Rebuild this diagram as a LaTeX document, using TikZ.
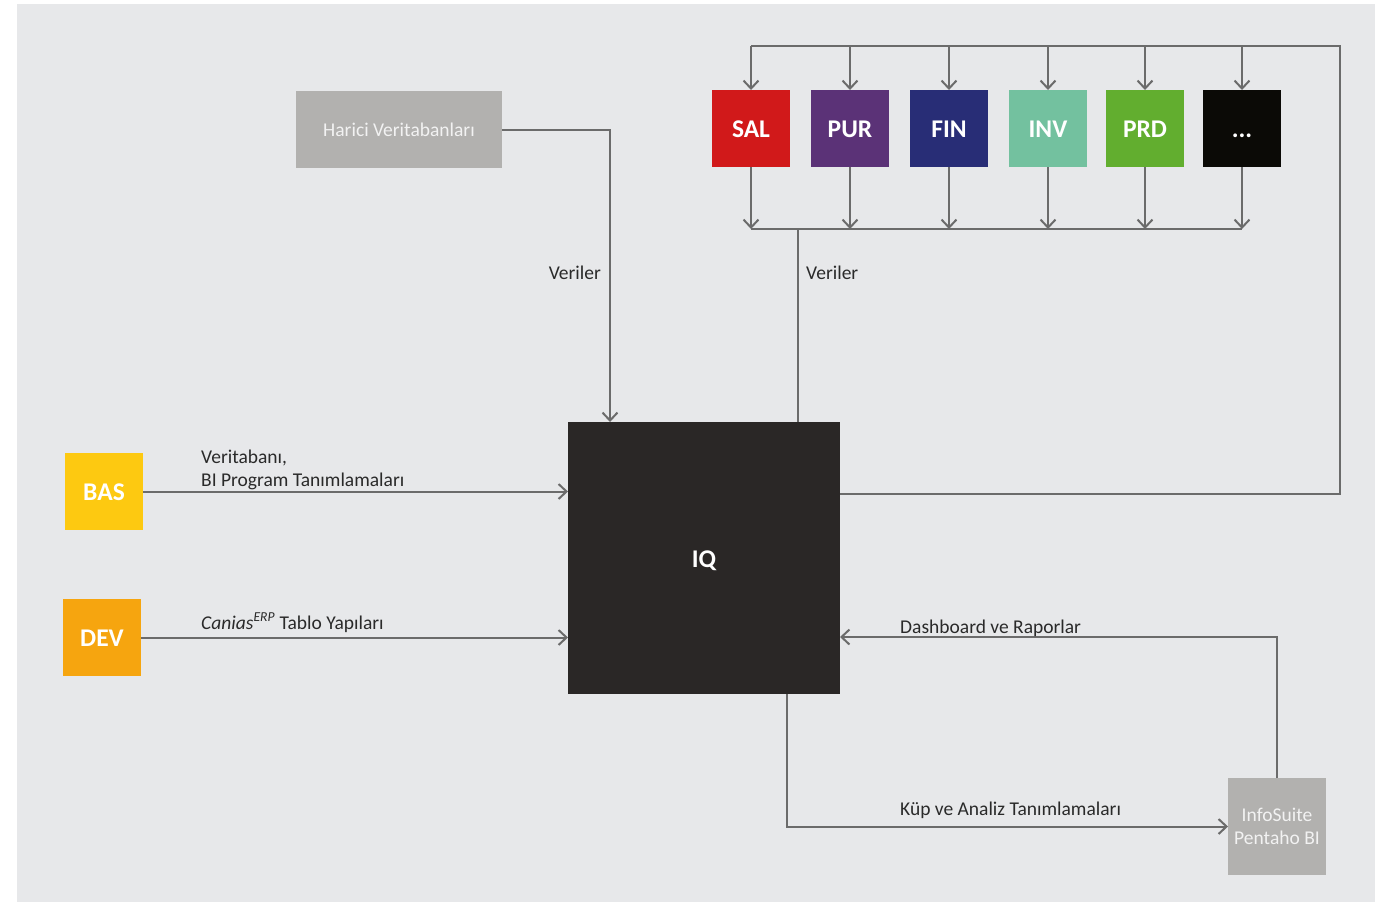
\documentclass[tikz,border=0pt]{standalone}
\usepackage{fontspec}
\setmainfont{Carlito}
\usetikzlibrary{arrows.meta,positioning,calc}

\definecolor{bggray}{HTML}{E7E8EA}
\definecolor{linegray}{HTML}{6B6B6B}
\definecolor{boxgray}{HTML}{B2B1AF}
\definecolor{boxtext}{HTML}{F2F2F2}
\definecolor{labeltext}{HTML}{2A2A2A}
\definecolor{iqblack}{HTML}{2A2726}
\definecolor{salred}{HTML}{D1191A}
\definecolor{purpurple}{HTML}{5B3277}
\definecolor{finblue}{HTML}{282D76}
\definecolor{invgreen}{HTML}{73C19F}
\definecolor{prdgreen}{HTML}{62AE2F}
\definecolor{etcblack}{HTML}{0B0A06}
\definecolor{basyellow}{HTML}{FDC911}
\definecolor{devorange}{HTML}{F6A50F}

\begin{document}
\begin{tikzpicture}[
    x=1pt, y=-1pt,
    font=\fontsize{19.5}{23}\selectfont,
    modbox/.style={
        minimum width=78pt,
        minimum height=77pt,
        inner sep=0pt,
        outer sep=0pt,
        text height=18pt,
        text depth=0pt,
        text=white,
        font=\fontsize{25.5}{28}\selectfont\bfseries
    },
    greybox/.style={
        fill=boxgray,
        text=boxtext,
        inner sep=0pt,
        outer sep=0pt,
        align=center
    },
    wire/.style={draw=linegray, line width=2pt},
    arrow/.style={wire, -{Straight Barb[length=8pt,width=15pt,line width=2pt]}},
    lbl/.style={inner sep=0pt, text=labeltext}
]

\useasboundingbox (0,0) rectangle (1375,903);
\fill[bggray] (17,4) rectangle (1375,902);

% sources and modules
\node[greybox, minimum width=206pt, minimum height=77pt] (harici) at (399,129.5) {Harici Veritabanları};
\node[modbox, fill=salred] (sal) at (751,128.5) {SAL};
\node[modbox, fill=purpurple, right=21pt of sal] (pur) {PUR};
\node[modbox, fill=finblue, right=21pt of pur] (fin) {FIN};
\node[modbox, fill=invgreen, right=21pt of fin] (inv) {INV};
\node[modbox, fill=prdgreen, right=19pt of inv] (prd) {PRD};
\node[modbox, fill=etcblack, right=19pt of prd] (etc) {...};

\node[modbox, fill=iqblack, minimum width=272pt, minimum height=272pt] (iq) at (704,558) {IQ};
\node[modbox, fill=basyellow] (bas) at (104,491.5) {BAS};
\node[modbox, fill=devorange] (dev) at (102,637.5) {DEV};
\node[greybox, minimum width=98pt, minimum height=97pt] (info) at (1277,826.5) {InfoSuite\\Pentaho BI};

\coordinate (bustop) at (1340,46);
\coordinate (busbot) at (798,229);

% module buses
\foreach \m in {sal,pur,fin,inv,prd,etc}{
    \draw[arrow] (\m.north |- bustop) -- (\m.north);
    \draw[arrow] (\m.south) -- (\m.south |- busbot);
}
\draw[wire] (sal.north |- bustop) -- (bustop) |- ([yshift=-72pt]iq.north east);
\draw[wire] (sal.south |- busbot) -- (etc.south |- busbot);
\draw[wire] (busbot) -- (busbot |- iq.north);

\draw[arrow] (harici.east) -| ([xshift=42pt]iq.north west);
\draw[arrow] (bas.east) -- (bas.east -| iq.west);
\draw[arrow] (dev.east) -- (dev.east -| iq.west);
\draw[arrow] (info.north) |- ([yshift=57pt]iq.south east);
\draw[arrow] ([xshift=-53pt]iq.south east) |- (info.west);

% labels
\node[lbl, anchor=base east] (verA) at (601,279) {Veriler};
\node[lbl, anchor=base west] (verB) at (806,279) {Veriler};
\node[lbl, anchor=base west, align=left] (basLbl) at (201,486) {Veritabanı,\\BI Program Tanımlamaları};
\node[lbl, anchor=base west] (devLbl) at (201,629) {\textit{Canias}\textsuperscript{\textit{ERP}} Tablo Yapıları};
\node[lbl, anchor=base west] (dashLbl) at (900,633) {Dashboard ve Raporlar};
\node[lbl, anchor=base west] (kupLbl) at (900,815) {Küp ve Analiz Tanımlamaları};

\end{tikzpicture}
\end{document}
